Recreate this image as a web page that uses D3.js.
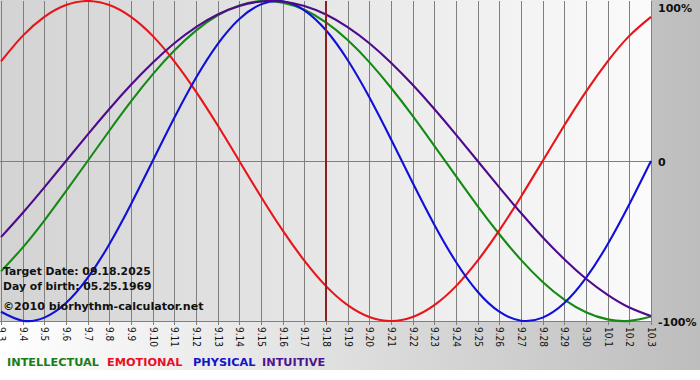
<!DOCTYPE html>
<html><head><meta charset="utf-8">
<script src="https://cdn.jsdelivr.net/npm/d3@7/dist/d3.min.js"></script>
<style>body{margin:0;background:#fff} svg{display:block}</style>
</head><body>
<svg id="c" width="700" height="380"></svg>
<script>
const dates = ["9.3","9.4","9.5","9.6","9.7","9.8","9.9","9.10","9.11","9.12","9.13","9.14","9.15","9.16","9.17","9.18","9.19","9.20","9.21","9.22","9.23","9.24","9.25","9.26","9.27","9.28","9.29","9.30","10.1","10.2","10.3"];
const intellectual = [-0.690,-0.541,-0.372,-0.189,0.000,0.189,0.372,0.541,0.690,0.815,0.910,0.972,0.999,0.990,0.945,0.866,0.756,0.618,0.458,0.282,0.095,-0.095,-0.282,-0.458,-0.618,-0.756,-0.866,-0.945,-0.990,-0.999,-0.972];
const emotional = [0.623,0.782,0.901,0.975,1.000,0.975,0.901,0.782,0.623,0.434,0.223,0.000,-0.223,-0.434,-0.623,-0.782,-0.901,-0.975,-1.000,-0.975,-0.901,-0.782,-0.623,-0.434,-0.223,0.000,0.223,0.434,0.623,0.782,0.901];
const physical = [-0.942,-0.998,-0.979,-0.888,-0.731,-0.520,-0.270,0.000,0.270,0.520,0.731,0.888,0.979,0.998,0.942,0.817,0.631,0.398,0.136,-0.136,-0.398,-0.631,-0.817,-0.942,-0.998,-0.979,-0.888,-0.731,-0.520,-0.270,0.000];
const intuitive = [-0.476,-0.325,-0.165,0.000,0.165,0.325,0.476,0.614,0.736,0.837,0.916,0.969,0.997,0.997,0.969,0.916,0.837,0.736,0.614,0.476,0.325,0.165,0.000,-0.165,-0.325,-0.476,-0.614,-0.736,-0.837,-0.916,-0.969];
const yTickValues = [1, 0, -1];
const yTickLabels = ["100%", "0", "-100%"];
const targetDate = "9.18";
const infoLines = ["Target Date: 09.18.2025", "Day of birth: 05.25.1969"];
const credit = "\u00A92010 biorhythm-calculator.net";
const legendNames = ["INTELLECTUAL", "EMOTIONAL", "PHYSICAL", "INTUITIVE"];

const series = [
  {name:"INTELLECTUAL", values: intellectual, color:"#138a13", legend:"#1a7d1a"},
  {name:"EMOTIONAL", values: emotional, color:"#e8141a", legend:"#e8101e"},
  {name:"PHYSICAL", values: physical, color:"#1010d8", legend:"#1414c8"},
  {name:"INTUITIVE", values: intuitive, color:"#4e0a8c", legend:"#4e1490"}
];

const svg = d3.select("#c");
const defs = svg.append("defs");
const g1 = defs.append("linearGradient").attr("id","bgOuter").attr("x1","0").attr("x2","1").attr("y1","0").attr("y2","0");
g1.append("stop").attr("offset","0").attr("stop-color","#ffffff");
g1.append("stop").attr("offset","1").attr("stop-color","#bdbdbd");
const g2 = defs.append("linearGradient").attr("id","bgPlot").attr("x1","0").attr("x2","1").attr("y1","0").attr("y2","0");
g2.append("stop").attr("offset","0").attr("stop-color","#d3d3d3");
g2.append("stop").attr("offset","1").attr("stop-color","#fbfbfb");

const x = d3.scalePoint().domain(dates).range([1, 651]);
const y = d3.scaleLinear().domain([-1, 1]).range([321, 1]);

svg.append("rect").attr("x",0).attr("y",0).attr("width",700).attr("height",370).attr("fill","url(#bgOuter)");
svg.append("rect").attr("x",0).attr("y",y(1)-1).attr("width",x(dates[dates.length-1])).attr("height",y(-1)-y(1)+1).attr("fill","url(#bgPlot)");

// vertical grid + ticks via axis
const xAxis = d3.axisBottom(x).tickSize(y(-1)-y(1)+4).tickSizeOuter(0).tickPadding(0);
const ax = svg.append("g").attr("transform",`translate(0,${y(1)})`).call(xAxis);
ax.select(".domain").remove();
ax.selectAll(".tick line").attr("stroke","#7f7f7f").attr("stroke-width",1).attr("shape-rendering","crispEdges");
ax.selectAll(".tick text")
  .attr("transform", `translate(0,${y(-1)-y(1)+6}) rotate(90)`)
  .attr("x",0).attr("y",0).attr("dy","0.35em")
  .attr("text-anchor","start")
  .attr("font-family","'DejaVu Sans Condensed','DejaVu Sans',sans-serif")
  .attr("font-stretch","condensed")
  .attr("font-size","10px").attr("fill","#111");

// horizontal lines
svg.append("g").selectAll("line").data(yTickValues).join("line")
  .attr("x1",0).attr("x2",x(dates[dates.length-1]))
  .attr("y1",d=>y(d)).attr("y2",d=>y(d))
  .attr("stroke","#7f7f7f").attr("stroke-width",1).attr("shape-rendering","crispEdges")
  .attr("stroke-opacity",(d,i)=> i===0 ? 0 : 1);

// curves
const line = d3.line().x((d,i)=>x(dates[i])).y(d=>y(d)).curve(d3.curveNatural);
svg.append("g").selectAll("path").data(series).join("path")
  .attr("d",d=>line(d.values)).attr("fill","none")
  .attr("stroke",d=>d.color).attr("stroke-width",2.1).attr("stroke-linejoin","round");

// target date line
svg.append("line").attr("x1",x(targetDate)).attr("x2",x(targetDate)).attr("y1",y(1)).attr("y2",y(-1))
  .attr("stroke","#8a1f24").attr("stroke-width",2);

// y labels on right
svg.append("g").selectAll("text").data(yTickValues).join("text")
  .attr("x",658).attr("y",d=>Math.max(y(d)+1, 8)).attr("dy","0.35em")
  .attr("font-family","'DejaVu Sans',sans-serif").attr("font-weight","bold").attr("font-size","11px")
  .attr("fill","#111").text((d,i)=>yTickLabels[i]);

// info texts
svg.append("g").selectAll("text").data(infoLines).join("text")
  .attr("x",3).attr("y",(d,i)=>275+i*15)
  .attr("font-family","'DejaVu Sans',sans-serif").attr("font-weight","bold").attr("font-size","10.8px")
  .attr("fill","#111").text(d=>d);
svg.append("text").attr("x",3).attr("y",310)
  .attr("font-family","'DejaVu Sans',sans-serif").attr("font-weight","bold").attr("font-size","11.1px")
  .attr("fill","#111").text(credit);

// legend
const legendX = [7, 107, 193, 262];
svg.append("g").selectAll("text").data(series).join("text")
  .attr("x",(d,i)=>legendX[i]).attr("y",366)
  .attr("font-family","'DejaVu Sans',sans-serif")
  .attr("font-weight","bold").attr("font-size","11.3px")
  .attr("fill",d=>d.legend).text((d,i)=>legendNames[i]);
</script>
</body></html>
